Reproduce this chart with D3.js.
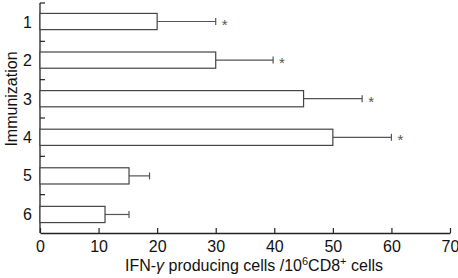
<!DOCTYPE html>
<html><head><meta charset="utf-8">
<script src="https://cdn.jsdelivr.net/npm/d3@7"></script>
<style>body{margin:0;background:#fff}text{font-family:"Liberation Sans",Arial,sans-serif}</style>
</head><body><svg id="c" width="458" height="278"></svg>
<script>
const categories = ["1","2","3","4","5","6"];
const values = [20, 30, 45, 50, 15.2, 11.1];
const errors = [10, 9.8, 10, 10, 3.5, 4.1];
const significant = [true, true, true, true, false, false];
const xTicks = [0,10,20,30,40,50,60,70];

const svg = d3.select("#c");
const m = {l:40, r:8, t:3, b:45};
const x = d3.scaleLinear().domain([0,70]).range([m.l, 450]);
const y = d3.scaleBand().domain(categories).range([m.t, 233]).paddingInner(0.58).paddingOuter(0.27);
const yb = d3.scaleBand().domain(categories).range([m.t, 233]);

const g = svg.append("g");
// x axis
const xa = g.append("g").attr("transform","translate(0,233)")
  .call(d3.axisBottom(x).tickValues(xTicks).tickSize(0).tickPadding(7.5));
xa.select(".domain").attr("stroke","#222").attr("stroke-width",1.3);
xa.selectAll("text").attr("font-size",16).attr("fill","#111");
xa.selectAll(".tick").append("line").attr("y1",0).attr("y2",-5).attr("stroke","#222").attr("stroke-width",1.2);

// y axis
g.append("line").attr("x1",x(0)).attr("x2",x(0)).attr("y1",m.t).attr("y2",233).attr("stroke","#222").attr("stroke-width",1.3);
const bounds = categories.map(c=>yb(c));
bounds.forEach(b=>{
  g.append("line").attr("x1",x(0)).attr("x2",x(0)+5).attr("y1",b).attr("y2",b).attr("stroke","#222").attr("stroke-width",1.2);
});
categories.forEach(c=>{
  g.append("text").attr("x",32).attr("y",yb(c)+yb.bandwidth()/2).attr("dy","0.36em")
   .attr("text-anchor","end").attr("font-size",16).attr("fill","#111").text(c);
});

// bars
categories.forEach((c,i)=>{
  const cy = y(c) + y.bandwidth()/2;
  g.append("line").attr("x1",x(values[i])).attr("x2",x(values[i]+errors[i])).attr("y1",cy).attr("y2",cy)
   .attr("stroke","#555").attr("stroke-width",1.2);
  g.append("line").attr("x1",x(values[i]+errors[i])).attr("x2",x(values[i]+errors[i])).attr("y1",cy-3.5).attr("y2",cy+3.5)
   .attr("stroke","#555").attr("stroke-width",1.2);
  g.append("rect").attr("x",x(0)).attr("y",y(c)).attr("width",x(values[i])-x(0)).attr("height",y.bandwidth())
   .attr("fill","#fff").attr("stroke","#444").attr("stroke-width",1.2);
  if(significant[i]){
    g.append("text").attr("x",x(values[i]+errors[i])+6).attr("y",cy+8)
     .attr("font-size",15).attr("fill","#555").text("*");
  }
});

// axis titles
g.append("text").attr("transform","translate(17,99) rotate(-90)").attr("text-anchor","middle")
 .attr("font-size",16).attr("fill","#111").text("Immunization");
const xt = g.append("text").attr("x",254).attr("y",271).attr("text-anchor","middle").attr("font-size",16).attr("fill","#111");
xt.append("tspan").text("IFN-");
xt.append("tspan").attr("font-style","italic").text("γ");
xt.append("tspan").text(" producing cells /10");
xt.append("tspan").attr("font-size",11).attr("dy",-6).text("6");
xt.append("tspan").attr("dy",6).text("CD8");
xt.append("tspan").attr("font-size",11).attr("dy",-6).text("+");
xt.append("tspan").attr("dy",6).text(" cells");
</script></body></html>
